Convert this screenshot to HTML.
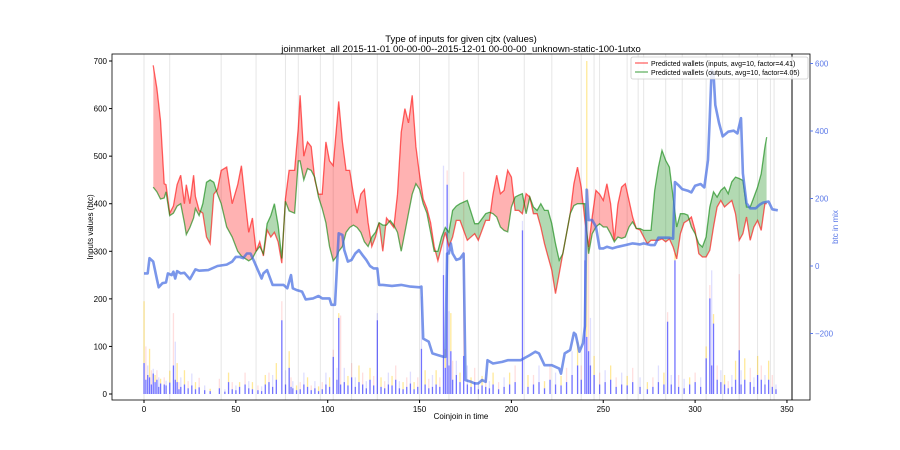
<!DOCTYPE html>
<html><head><meta charset="utf-8"><style>
body{margin:0;background:#fff;}
svg{display:block;font-family:"Liberation Sans","DejaVu Sans",sans-serif;}
</style></head><body>
<svg id="chart" width="900" height="450" viewBox="0 0 900 450" xmlns="http://www.w3.org/2000/svg">
<rect width="900" height="450" fill="#fff"/>
<text x="461" y="42" font-size="9.5" text-anchor="middle" fill="#000">Type of inputs for given cjtx (values)</text>
<text x="461" y="52" font-size="9.5" text-anchor="middle" fill="#000">joinmarket_all 2015-11-01 00-00-00--2015-12-01 00-00-00_unknown-static-100-1utxo</text>
<g id="grid"></g>
<g id="bars"></g>
<defs>
<clipPath id="clipAboveGreen"><path id="cpg"/></clipPath>
<clipPath id="clipAboveRed"><path id="cpr"/></clipPath>
<clipPath id="plotClip"><rect x="112" y="54" width="698" height="346"/></clipPath>
</defs>
<g clip-path="url(#plotClip)">
<path id="redFill" fill="rgba(255,0,0,0.3)" clip-path="url(#clipAboveGreen)"/>
<path id="greenFill" fill="rgba(0,128,0,0.3)" clip-path="url(#clipAboveRed)"/>
<path id="redLine" fill="none" stroke="rgba(255,0,0,0.6)" stroke-width="1.3"/>
<path id="greenLine" fill="none" stroke="rgba(0,128,0,0.6)" stroke-width="1.3"/>
<path id="blueLine" fill="none" stroke="rgba(65,105,225,0.7)" stroke-width="2.6" stroke-linejoin="round"/>
</g>
<line x1="792" y1="54" x2="792" y2="400" stroke="#000" stroke-width="1"/>
<rect x="112" y="54" width="698" height="346" fill="none" stroke="#000" stroke-width="0.8"/>
<g id="xticks"></g>
<g id="yticks"></g>
<g id="y2ticks"></g>
<text x="461" y="419" font-size="8" text-anchor="middle">Coinjoin in time</text>
<text transform="translate(93,227) rotate(-90)" font-size="8" text-anchor="middle">Inputs values (btc)</text>
<text transform="translate(838,227) rotate(-90)" font-size="8" text-anchor="middle" fill="#5a78e8">btc in mix</text>
<g>
<rect x="631" y="57" width="177" height="22" fill="#fff" fill-opacity="0.85" stroke="#ccc" stroke-width="0.8" rx="2"/>
<g><line x1="635" y1="63" x2="648" y2="63" stroke="rgba(255,0,0,0.6)" stroke-width="1.3"/><text x="651" y="66" font-size="7">Predicted wallets (inputs, avg=10, factor=4.41)</text></g>
<g><line x1="635" y1="72" x2="648" y2="72" stroke="rgba(0,128,0,0.6)" stroke-width="1.3"/><text x="651" y="75" font-size="7">Predicted wallets (outputs, avg=10, factor=4.05)</text></g>
</g>
</svg>
<script>
const walletX=[5,7,9,11,12,14,16,18,20,22,23,25,27,28,30,32,34,36,38,40,42,45,48,51,53,55,57,59,61,63,65,67,69,71,73,75,77,79,82,84,85,87,89,91,93,95,97,99,101,103,105,106,108,110,112,114,116,118,120,122,124,126,128,130,132,134,136,138,140,142,144,146,148,150,152,154,156,158,160,162,164,166,168,170,172,176,180,182,186,188,190,192,194,196,198,200,202,204,206,208,210,212,214,216,218,220,222,224,226,228,230,232,234,236,238,240,242,244,246,248,250,252,254,256,258,260,262,264,266,268,270,272,274,276,278,280,282,284,286,288,290,292,294,296,298,300,302,304,306,308,310,312,314,316,318,320,322,324,326,328,330,332,334,336,338,339];
const inputsWallets=[691,642,575,442,440,380,395,440,460,400,440,400,460,415,386,380,330,316,420,430,470,477,400,440,480,410,340,370,300,320,290,345,330,340,320,275,410,470,470,560,628,500,530,520,450,420,420,530,490,480,570,615,530,470,470,420,380,420,430,360,310,330,360,300,370,360,350,420,550,600,570,628,520,460,410,390,360,310,280,310,340,310,330,365,365,323,337,323,365,365,420,460,421,428,470,456,386,386,379,421,414,379,379,351,316,288,260,211,253,295,337,379,442,477,435,365,309,372,428,420,407,442,400,323,399,435,442,407,372,348,345,330,316,323,323,323,326,320,326,309,284,337,360,365,372,344,295,288,288,302,351,393,407,393,400,407,379,323,337,372,323,351,365,344,400,400];
const outputsWallets=[435,425,410,412,425,375,380,395,400,360,335,350,370,390,375,400,445,450,445,420,400,351,330,300,290,285,280,285,300,310,295,358,375,400,355,285,405,385,380,490,490,450,474,470,455,414,390,360,310,280,290,300,310,340,350,355,350,340,320,310,330,340,360,355,355,365,355,340,300,340,380,420,442,430,400,380,340,300,300,330,350,340,386,395,400,407,358,358,379,382,379,372,351,344,341,393,414,418,421,379,414,393,386,400,386,386,358,316,281,295,337,379,396,400,400,400,295,337,351,358,351,351,337,320,330,327,330,351,362,348,348,344,344,344,428,477,512,491,477,414,351,379,379,376,351,337,316,309,330,393,425,414,428,435,421,446,456,453,449,393,393,414,435,463,519,540];
const mixX=[0,2,3,5,7,8,10,12,13,15,16,17,18,20,22,25,28,30,35,40,45,48,50,52,54,56,58,60,62,64,65,67,70,73,76,78,80,81,83,86,88,92,95,97,101,102,104,106,108,109,111,113,115,117,119,121,123,125,127,128,130,135,140,145,150,151,152,155,157,160,163,164,165,166,167,168,170,172,174,175,178,180,182,184,186,187,190,195,198,205,210,213,215,218,222,226,227,229,232,234,235,237,239,240,241,242,244,246,248,250,252,255,258,262,266,270,272,276,278,280,284,286,288,289,291,293,296,298,300,303,305,307,308,309,310,311,313,315,318,321,323,325,326,328,330,333,335,337,340,342,345];
const btcInMix=[-22,-22,23,13,-39,-63,-51,-49,-22,-27,-17,-37,-15,-22,-20,-39,-10,-14,-12,0,4,13,27,27,23,37,37,13,-12,-37,-22,-12,-56,-56,-56,-66,-27,-66,-71,-76,-99,-96,-89,-96,-96,-115,-115,97,92,48,13,18,37,47,32,18,0,-7,-7,-56,-56,-59,-56,-61,-63,-61,-215,-224,-259,-264,-269,-269,37,37,67,37,18,22,37,-338,-343,-348,-348,-338,-343,-279,-289,-284,-279,-279,-264,-254,-259,-294,-294,-304,-319,-259,-249,-198,-203,-254,-229,-178,226,136,136,117,52,52,57,52,57,62,67,64,67,62,62,84,84,84,81,249,239,228,223,218,238,243,233,314,442,581,571,477,424,384,398,401,393,438,274,186,171,171,181,188,191,168,165];
const barX=[0,1,2,3,4,5,6,7,8,9,11,12,14,16,17,18,19,20,22,24,26,28,30,33,36,41,44,46,48,50,52,55,57,59,62,64,66,68,70,72,75,77,79,80,81,83,85,87,89,91,93,95,97,99,101,103,105,106,107,109,111,113,115,117,119,121,123,125,127,129,131,133,135,137,139,141,143,145,147,149,151,153,155,157,159,161,163,164,165,166,167,168,170,172,174,176,178,180,182,184,186,188,190,193,196,199,202,206,209,212,215,218,221,224,227,230,233,236,238,240,241,242,243,245,248,251,254,257,260,263,266,270,274,277,280,283,285,287,289,291,294,297,300,303,306,308,309,310,312,314,316,318,320,322,324,325,327,330,332,334,336,338,340,342,344];
const barBlue=[65,30,40,35,20,43,25,30,15,22,20,18,24,60,30,25,10,15,20,12,18,10,14,8,6,12,5,25,10,8,15,20,12,10,8,6,20,25,15,30,155,20,55,15,12,8,10,20,15,8,12,6,10,20,15,78,30,160,20,25,18,35,15,25,20,12,30,18,155,15,12,20,18,30,12,10,15,22,10,15,95,20,12,15,20,15,250,55,440,60,90,30,40,25,80,20,15,25,10,18,15,12,20,10,15,20,25,344,15,20,25,12,30,20,18,25,40,60,30,281,120,90,60,40,20,25,30,15,20,18,25,15,10,15,25,20,152,20,281,15,12,20,25,15,75,201,60,148,30,25,20,12,15,30,92,20,30,25,15,40,30,20,30,15,10];
const barLight=[130,70,20,60,30,10,15,20,20,10,15,10,25,110,80,40,15,20,30,15,25,15,20,10,5,20,5,20,15,10,10,25,15,15,10,10,20,20,25,35,40,30,35,20,15,10,15,25,20,10,15,10,15,25,20,15,25,10,145,30,20,30,20,35,25,15,25,20,15,20,15,25,20,30,15,15,20,25,15,20,110,30,20,25,30,20,230,40,30,114,80,40,30,20,387,40,20,30,15,20,20,15,25,15,20,25,35,20,25,20,35,15,30,25,20,30,50,50,30,100,580,340,100,40,25,25,30,20,25,20,30,20,15,20,35,25,20,20,15,25,20,15,20,20,25,28,200,20,30,25,20,15,25,40,160,30,45,30,20,40,30,20,40,25,10];
const xTicks=[0,50,100,150,200,250,300,350];
const yTicks=[0,100,200,300,400,500,600,700];
const y2Ticks=[-200,0,200,400,600];
const gridX=[0,14,42,61,77,84,96,103,113,127,150,166,182,207,222,238,245,248,263,269,272,284,293,306,315,324,334,341,343];

const NS="http://www.w3.org/2000/svg";
const sx=v=>144+v*1.837;
const sy=v=>394-v*0.4757;
const sy2=v=>266-v*67.5/200;
function mk(tag,attrs,parent){const e=document.createElementNS(NS,tag);for(const k in attrs)e.setAttribute(k,attrs[k]);parent.appendChild(e);return e;}
const pathOf=(xs,ys,f)=>xs.map((x,i)=>(i?'L':'M')+sx(x).toFixed(1)+' '+f(ys[i]).toFixed(1)).join(' ');

const grid=document.getElementById('grid');
gridX.forEach(g=>{const l=mk('line',{x1:sx(g),x2:sx(g),y1:54,y2:400,stroke:'#e6e6e6','stroke-width':1},grid);

});

const bars=document.getElementById('bars');
barX.forEach((x,i)=>{
 const lt=mk('rect',{x:sx(x)-0.6,y:sy(barLight[i]+barBlue[i]),width:1.3,height:barLight[i]*0.4757,fill:i%3==0?'rgba(255,200,0,0.4)':(i%3==1?'rgba(255,0,0,0.13)':'rgba(0,0,255,0.13)')},bars);
 
 
 const b=mk('rect',{x:sx(x)-0.6,y:sy(barBlue[i]),width:1.3,height:barBlue[i]*0.4757,fill:'rgba(0,0,255,0.55)'},bars);
 
 
});

const rp=pathOf(walletX,inputsWallets,sy), gp=pathOf(walletX,outputsWallets,sy);
const x0=sx(walletX[0]).toFixed(1), x1=sx(walletX[walletX.length-1]).toFixed(1);
document.getElementById('redFill').setAttribute('d',rp+` L${x1} 400 L${x0} 400 Z`);
document.getElementById('greenFill').setAttribute('d',gp+` L${x1} 400 L${x0} 400 Z`);
document.getElementById('cpg').setAttribute('d',gp+` L${x1} 54 L${x0} 54 Z`);
document.getElementById('cpr').setAttribute('d',rp+` L${x1} 54 L${x0} 54 Z`);
document.getElementById('redLine').setAttribute('d',rp);
document.getElementById('greenLine').setAttribute('d',gp);
document.getElementById('blueLine').setAttribute('d',pathOf(mixX,btcInMix,sy2));

const xt=document.getElementById('xticks');
xTicks.forEach(t=>{mk('line',{x1:sx(t),x2:sx(t),y1:400,y2:403,stroke:'#000'},xt);
 const tx=mk('text',{x:sx(t),y:412,'font-size':8,'text-anchor':'middle'},xt);tx.textContent=t;
 
 });
const yt=document.getElementById('yticks');
yTicks.forEach(t=>{mk('line',{x1:109,x2:112,y1:sy(t),y2:sy(t),stroke:'#000'},yt);
 const tx=mk('text',{x:107,y:sy(t)+3,'font-size':8,'text-anchor':'end'},yt);tx.textContent=t;
 
 });
const y2=document.getElementById('y2ticks');
y2Ticks.forEach(t=>{mk('line',{x1:810,x2:813,y1:sy2(t),y2:sy2(t),stroke:'#5a78e8'},y2);
 const tx=mk('text',{x:815,y:sy2(t)+3,'font-size':8,fill:'#5a78e8'},y2);tx.textContent=(t<0?'\u2212'+(-t):t);
 
 });
</script>
</body></html>
